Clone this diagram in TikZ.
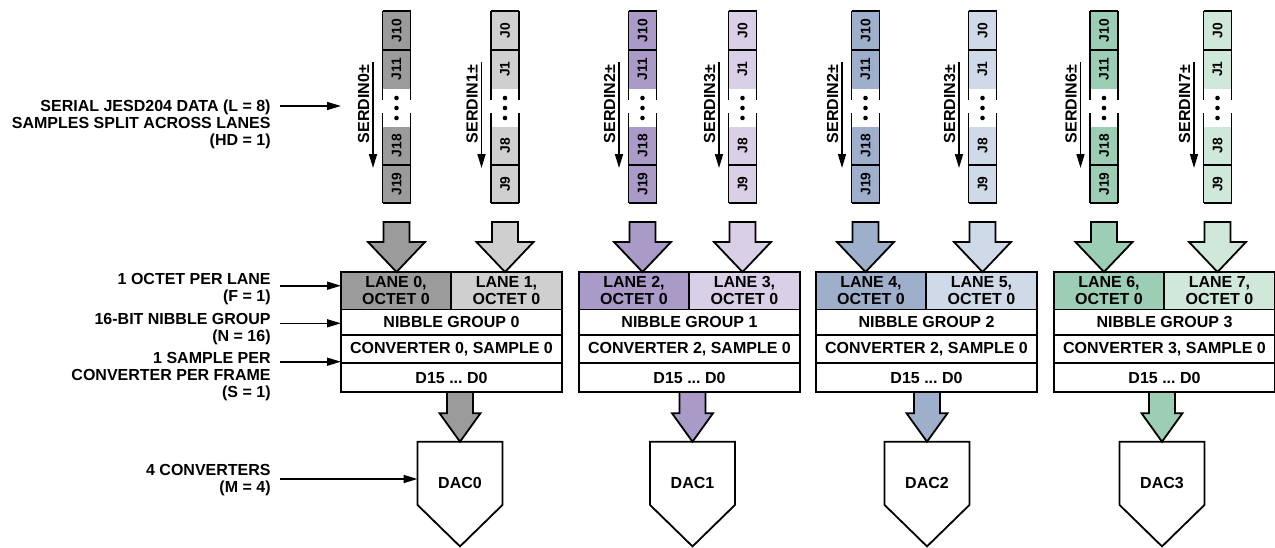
\documentclass[tikz,border=0pt]{standalone}
\usepackage{fontspec}
\setmainfont{Liberation Sans}
\usetikzlibrary{arrows.meta,calc}
\frenchspacing
\definecolor{gA}{HTML}{9B9B9B}
\definecolor{gB}{HTML}{CFCFCF}
\definecolor{pA}{HTML}{AA9AC8}
\definecolor{pB}{HTML}{D9D0E7}
\definecolor{bA}{HTML}{9EAFCB}
\definecolor{bB}{HTML}{D0D9E7}
\definecolor{eA}{HTML}{9BCEB4}
\definecolor{eB}{HTML}{D0E8DA}
\tikzset{
  lbl/.style={font=\bfseries\fontsize{8}{8.5}\selectfont, align=right, inner sep=0pt, anchor=east},
  cell/.style={draw, line width=0.9pt, inner sep=0pt, outer sep=0pt, font=\bfseries\fontsize{8}{8.4}\selectfont, align=center},
  jtxt/.style={font=\bfseries\fontsize{6.9}{7}\selectfont, rotate=90, inner sep=0pt},
  stxt/.style={font=\bfseries\fontsize{8}{8}\selectfont, rotate=90, inner sep=0pt},
  dtxt/.style={font=\bfseries\fontsize{8}{8}\selectfont, inner sep=0pt},
  ptr/.style={line width=0.8pt, -{Triangle[length=7pt,width=4pt]}},
  colnode/.style={rectangle, minimum width=14pt, minimum height=96pt, inner sep=0pt, outer sep=0pt, draw=none},
  dacnode/.style={rectangle, minimum width=42.5pt, minimum height=31.6pt, inner sep=0pt, outer sep=0pt, draw=none},
  box/.style={line width=0.9pt},
}
% lane column: name, x, fill, t1, t2, b1, b2, serdin label
\newcommand{\lanecol}[8]{%
  \node[colnode] (#1) at (#2,107) {};
  \fill[#3] ({#2-14},11) rectangle ({#2+14},88.5);
  \fill[#3] ({#2-14},126.5) rectangle ({#2+14},203);
  \draw[box] ({#2-14},11) -- ({#2+14},11);
  \draw[box] ({#2-14},50) -- ({#2+14},50);
  \draw[box] ({#2-14},165) -- ({#2+14},165);
  \draw[box] ({#2-14},203) -- ({#2+14},203);
  \draw[box] ({#2-14},11) -- ({#2-14},100) ({#2-14},113) -- ({#2-14},203);
  \draw[box] ({#2+14},11) -- ({#2+14},100) ({#2+14},113) -- ({#2+14},203);
  \node[jtxt] at (#2,30.5) {#4};
  \node[jtxt] at (#2,69) {#5};
  \node[jtxt] at (#2,145.5) {#6};
  \node[jtxt] at (#2,184) {#7};
  \fill (#2,98) circle (1.15pt) (#2,108) circle (1.15pt) (#2,118) circle (1.15pt);
  \node[stxt] (#1lab) at ({#2-33},104) {#8};
  \coordinate (#1s) at ({#2-23.5},62);
  \coordinate (#1e) at ({#2-23.5},168);
  \draw[ptr] (#1s) -- (#1e);
}
% table: index, x0, dark, light, laneA, laneB, nibble, converter
\newcommand{\lanetable}[8]{%
  \node[cell, fill=#3, minimum width=55pt, minimum height=18.75pt] (la#1) at ({#2+55},290.75) {#5};
  \node[cell, fill=#4, minimum width=55.5pt, minimum height=18.75pt] (lb#1) at ({#2+165.5},290.75) {#6};
  \node[cell, fill=white, minimum width=110.5pt, minimum height=12.75pt] (ng#1) at ({#2+110.5},322.25) {#7};
  \node[cell, fill=white, minimum width=110.5pt, minimum height=14pt] (cv#1) at ({#2+110.5},349) {#8};
  \node[cell, fill=white, minimum width=110.5pt, minimum height=14.5pt] (dd#1) at ({#2+110.5},377.5) {D15 ... D0};
}
% block arrow: fill, top point, tip point, shaft half, head half, head length (px)
\newcommand{\blockarrow}[6]{%
  \filldraw[box, fill=#1] let \p1=(#2), \p2=(#3) in
    (\x1-#4*0.5pt,\y1) -- (\x1-#4*0.5pt,\y2+#6*0.5pt) -- (\x1-#5*0.5pt,\y2+#6*0.5pt)
    -- (\x1,\y2) -- (\x1+#5*0.5pt,\y2+#6*0.5pt) -- (\x1+#4*0.5pt,\y2+#6*0.5pt)
    -- (\x1+#4*0.5pt,\y1) -- cycle;}
% DAC: name, x, fill, label, table index
\newcommand{\dac}[5]{%
  \node[dacnode] (#1) at (#2,473.3) {};
  \draw[box, fill=white] (#1.north west) -- (#1.north east) -- (#1.south east)
    -- ($(#1.south)+(0,41.5)$) -- (#1.south west) -- cycle;
  \node[dtxt] (#1t) at (#2,483) {#4};
  \blockarrow{#3}{#1.north |- dd#5.south}{#1.north}{13}{20.5}{28.5}
}
\begin{document}
\begin{tikzpicture}[x=0.5pt,y=-0.5pt]
\useasboundingbox (0,0) rectangle (1275,547);

% lane columns
\lanecol{c1}{396.5}{gA}{J10}{J11}{J18}{J19}{SERDIN0±}
\lanecol{c2}{505}{gB}{J0}{J1}{J8}{J9}{SERDIN1±}
\lanecol{c3}{642.5}{pA}{J10}{J11}{J18}{J19}{SERDIN2±}
\lanecol{c4}{742.5}{pB}{J0}{J1}{J8}{J9}{SERDIN3±}
\lanecol{c5}{865.5}{bA}{J10}{J11}{J18}{J19}{SERDIN2±}
\lanecol{c6}{982.5}{bB}{J0}{J1}{J8}{J9}{SERDIN3±}
\lanecol{c7}{1104}{eA}{J10}{J11}{J18}{J19}{SERDIN6±}
\lanecol{c8}{1217.5}{eB}{J0}{J1}{J8}{J9}{SERDIN7±}

% tables
\lanetable{1}{341}{gA}{gB}{LANE 0,\\OCTET 0}{LANE 1,\\OCTET 0}{NIBBLE GROUP 0}{CONVERTER 0, SAMPLE 0}
\lanetable{2}{579}{pA}{pB}{LANE 2,\\OCTET 0}{LANE 3,\\OCTET 0}{NIBBLE GROUP 1}{CONVERTER 2, SAMPLE 0}
\lanetable{3}{816}{bA}{bB}{LANE 4,\\OCTET 0}{LANE 5,\\OCTET 0}{NIBBLE GROUP 2}{CONVERTER 2, SAMPLE 0}
\lanetable{4}{1054}{eA}{eB}{LANE 6,\\OCTET 0}{LANE 7,\\OCTET 0}{NIBBLE GROUP 3}{CONVERTER 3, SAMPLE 0}

% arrows lanes -> tables
\blockarrow{gA}{$(c1.south)+(0,19)$}{c1.south |- la1.north}{13}{28.5}{30}
\blockarrow{gB}{$(c2.south)+(0,19)$}{c2.south |- lb1.north}{13}{28.5}{30}
\blockarrow{pA}{$(c3.south)+(0,19)$}{c3.south |- la2.north}{13}{28.5}{30}
\blockarrow{pB}{$(c4.south)+(0,19)$}{c4.south |- lb2.north}{13}{28.5}{30}
\blockarrow{bA}{$(c5.south)+(0,19)$}{c5.south |- la3.north}{13}{28.5}{30}
\blockarrow{bB}{$(c6.south)+(0,19)$}{c6.south |- lb3.north}{13}{28.5}{30}
\blockarrow{eA}{$(c7.south)+(0,19)$}{c7.south |- la4.north}{13}{28.5}{30}
\blockarrow{eB}{$(c8.south)+(0,19)$}{c8.south |- lb4.north}{13}{28.5}{30}

% DACs
\dac{dac0}{460}{gA}{DAC0}{1}
\dac{dac1}{692.5}{pA}{DAC1}{2}
\dac{dac2}{927}{bA}{DAC2}{3}
\dac{dac3}{1162}{eA}{DAC3}{4}

% left labels
\node[lbl] (t1) at (271,124) {SERIAL JESD204 DATA (L = 8)\\SAMPLES SPLIT ACROSS LANES\\(HD = 1)};
\node[lbl] (t2) at (271,289) {1 OCTET PER LANE\\(F = 1)};
\node[lbl] (t3) at (271,329) {16-BIT NIBBLE GROUP\\(N = 16)};
\node[lbl] (t4) at (271,377) {1 SAMPLE PER\\CONVERTER PER FRAME\\(S = 1)};
\node[lbl] (t5) at (271,480) {4 CONVERTERS\\(M = 4)};

\coordinate (a1) at (280,106);
\coordinate (a2) at (280,285.7);
\coordinate (a3) at (280,323.3);
\coordinate (a4) at (280,361.7);
\coordinate (a5) at (280,479);
\draw[ptr] (a1) -- (a1 -| la1.west);
\draw[ptr] (a2) -- (a2 -| la1.west);
\draw[ptr] (a3) -- (a3 -| la1.west);
\draw[ptr] (a4) -- (a4 -| la1.west);
\draw[ptr] (a5) -- (a5 -| dac0.west);
\end{tikzpicture}
\end{document}
